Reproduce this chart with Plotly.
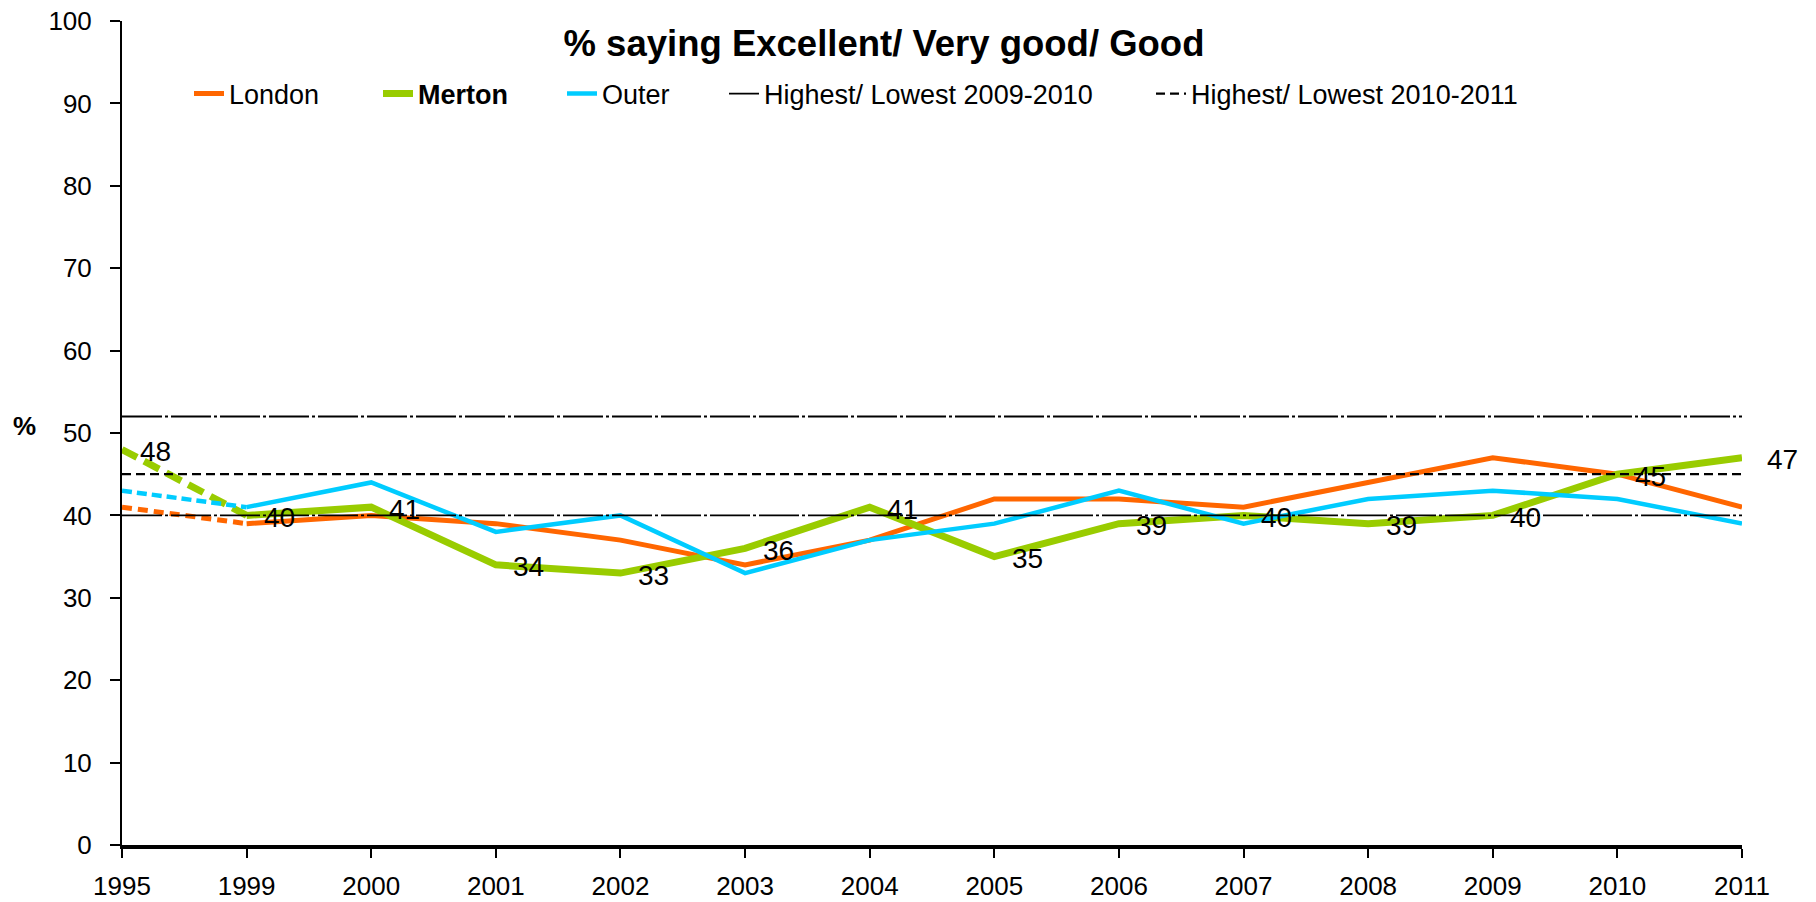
import plotly.graph_objects as go

years = ["1995", "1999", "2000", "2001", "2002", "2003", "2004", "2005",
         "2006", "2007", "2008", "2009", "2010", "2011"]
london = [41, 39, 40, 39, 37, 34, 37, 42, 42, 41, 44, 47, 45, 41]
merton = [48, 40, 41, 34, 33, 36, 41, 35, 39, 40, 39, 40, 45, 47]
outer = [43, 41, 44, 38, 40, 33, 37, 39, 43, 39, 42, 43, 42, 39]
hl_2009_2010 = [52, 40]
hl_2010_2011 = [45]
y_ticks = [0, 10, 20, 30, 40, 50, 60, 70, 80, 90, 100]

FONT = "Liberation Sans, Arial, sans-serif"
C_LON = "#FF6600"
C_MER = "#99CC00"
C_OUT = "#00CCFF"

# body margin is removed by the post script, so figure px == page px
W, H = 1816, 902
L, R, T, B = 122, 1742, 21, 845


def px_to_paper_x(px):
    return (px - L) / (R - L)


def px_to_paper_y(py):
    return (B - py) / (B - T)


fig = go.Figure()

series = [
    ("London", london, C_LON, 5, "10px,6px", "legend"),
    ("<b>Merton</b>", merton, C_MER, 7, "17px,8px", "legend2"),
    ("Outer", outer, C_OUT, 4.5, "10px,5px", "legend3"),
]
for name, vals, col, w, dsh, lg in series:
    fig.add_trace(go.Scatter(
        x=years[:2], y=vals[:2], mode="lines",
        line=dict(color=col, width=w, dash=dsh),
        showlegend=False, hoverinfo="skip", cliponaxis=False))
    fig.add_trace(go.Scatter(
        x=years[1:], y=vals[1:], mode="lines", name=name,
        line=dict(color=col, width=w), legend=lg, cliponaxis=False))

# reference lines
for i, v in enumerate(hl_2009_2010):
    fig.add_trace(go.Scatter(
        x=years, y=[v] * len(years), mode="lines",
        name="Highest/ Lowest 2009-2010",
        line=dict(color="black", width=1.8, dash="40px,3px,3px,3px"),
        legend="legend4", legendgroup="hl1", showlegend=(i == 0),
        cliponaxis=False))
for i, v in enumerate(hl_2010_2011):
    fig.add_trace(go.Scatter(
        x=years, y=[v] * len(years), mode="lines",
        name="Highest/ Lowest 2010-2011",
        line=dict(color="black", width=2.2, dash="9px,5px"),
        legend="legend5", legendgroup="hl2", showlegend=(i == 0),
        cliponaxis=False))

# Merton data labels (category index positions on the x axis)
for i, v in enumerate(merton):
    fig.add_annotation(x=i, y=v, text=str(v), showarrow=False,
                       xshift=40 if i == len(merton) - 1 else 33, yshift=-2,
                       font=dict(family=FONT, size=28, color="black"))

# % label
fig.add_annotation(xref="paper", yref="y", x=px_to_paper_x(24), y=50,
                   xanchor="center", text="<b>%</b>", showarrow=False,
                   yshift=7, font=dict(family=FONT, size=26, color="black"))

leg_common = dict(orientation="h", yanchor="middle", xanchor="left",
                  bgcolor="rgba(0,0,0,0)", borderwidth=0,
                  font=dict(family=FONT, size=27, color="black"),
                  itemwidth=30)
leg_y = px_to_paper_y(94)
legend_text_px = [233, 422, 606, 768, 1195]
layout_legends = {}
for k, px in zip(["legend", "legend2", "legend3", "legend4", "legend5"],
                 legend_text_px):
    layout_legends[k] = dict(leg_common, x=px_to_paper_x(px - 44), y=leg_y)

fig.update_layout(
    width=W, height=H,
    margin=dict(l=L, r=W - R, t=T, b=H - B, pad=0, autoexpand=False),
    paper_bgcolor="white", plot_bgcolor="white",
    font=dict(family=FONT, size=26, color="black"),
    title=dict(text="<b>% saying Excellent/ Very good/ Good</b>",
               x=884 / W, xanchor="center", xref="container",
               y=1 - 43 / H, yanchor="middle", yref="container",
               font=dict(family=FONT, size=36.5, color="black")),
    xaxis=dict(type="category", range=[0, len(years) - 1], automargin=False,
               showline=True, linecolor="black", linewidth=3.5,
               ticks="outside", ticklen=9, tickwidth=1.5, tickcolor="black",
               showgrid=False, zeroline=False, ticklabelstandoff=6,
               ticklabeloverflow="allow",
               tickfont=dict(family=FONT, size=26, color="black")),
    yaxis=dict(range=[0, 100], tickvals=y_ticks, automargin=False,
               showline=True, linecolor="black", linewidth=2,
               ticks="outside", ticklen=10, tickwidth=1.5, tickcolor="black",
               showgrid=False, zeroline=False, ticklabelstandoff=13,
               ticklabeloverflow="allow",
               tickfont=dict(family=FONT, size=26, color="black")),
    showlegend=True,
    **layout_legends,
)

fig.write_html("out.html",
               config={"displayModeBar": False},
               post_script="document.body.style.margin='0px';"
                           "document.body.style.overflow='hidden';")
